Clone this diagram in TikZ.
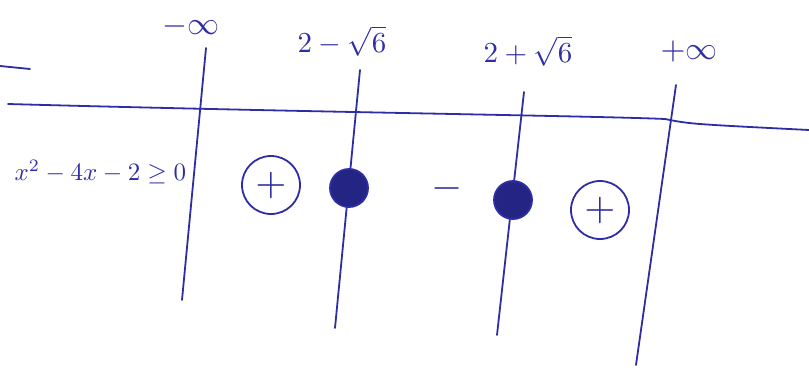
\documentclass[tikz,border=0pt]{standalone}
\usepackage{amsmath}
\definecolor{ink}{RGB}{45,45,165}
\begin{document}
\begin{tikzpicture}[x=1pt,y=-1pt,
  pen/.style={draw=ink,line width=1.8pt,line cap=round},
  lbl/.style={text=ink,scale=2.9,inner sep=0pt},
  inflbl/.style={text=ink,scale=3.2,inner sep=0pt},
  signc/.style={draw=ink,line width=1.8pt,circle,scale=4,minimum size=14.5pt,inner sep=0pt,text=ink},
  dotc/.style={draw=ink,fill=ink!80!black,circle,line width=1.8pt,minimum size=38pt,inner sep=0pt}]
\useasboundingbox (0,0) rectangle (809,370);
% labels
\node[inflbl] (minf) at (191,26) {$-\infty$};
\node[lbl] (r1) at (342,41) {$2-\sqrt{6}$};
\node[lbl] (r2) at (528,51) {$2+\sqrt{6}$};
\node[inflbl] (pinf) at (689,51) {$+\infty$};
\node[text=ink,inner sep=0pt,anchor=west,scale=2.5] (expr) at (14,172) {$x^2-4x-2\geq 0$};
% top-left dash
\coordinate (d1) at (0,66);
\coordinate (d2) at (30,69);
\draw[pen] (d1) -- (d2);
% horizontal line
\coordinate (h0) at (8,104);
\coordinate (h1) at (809,130);
\draw[pen] (h0) .. controls (300,112) and (600,116) .. (665,119) .. controls (690,124) .. (h1);
% vertical lines
\coordinate (v1a) at (206,48); \coordinate (v1b) at (182,300);
\coordinate (v2a) at (360,70); \coordinate (v2b) at (335,328);
\coordinate (v3a) at (524,92); \coordinate (v3b) at (497,335);
\coordinate (v4a) at (676,85); \coordinate (v4b) at (636,365);
\draw[pen] (v1a) -- (v1b);
\draw[pen] (v2a) -- (v2b);
\draw[pen] (v3a) -- (v3b);
\draw[pen] (v4a) -- (v4b);
% signs
\node[signc] (p1) at (271,185) {$+$};
\node[dotc] (z1) at (349,188) {};
\node[text=ink,scale=4,inner sep=0pt] (m) at (447,188) {$-$};
\node[dotc] (z2) at (513,200) {};
\node[signc] (p2) at (600,210) {$+$};
\end{tikzpicture}
\end{document}
